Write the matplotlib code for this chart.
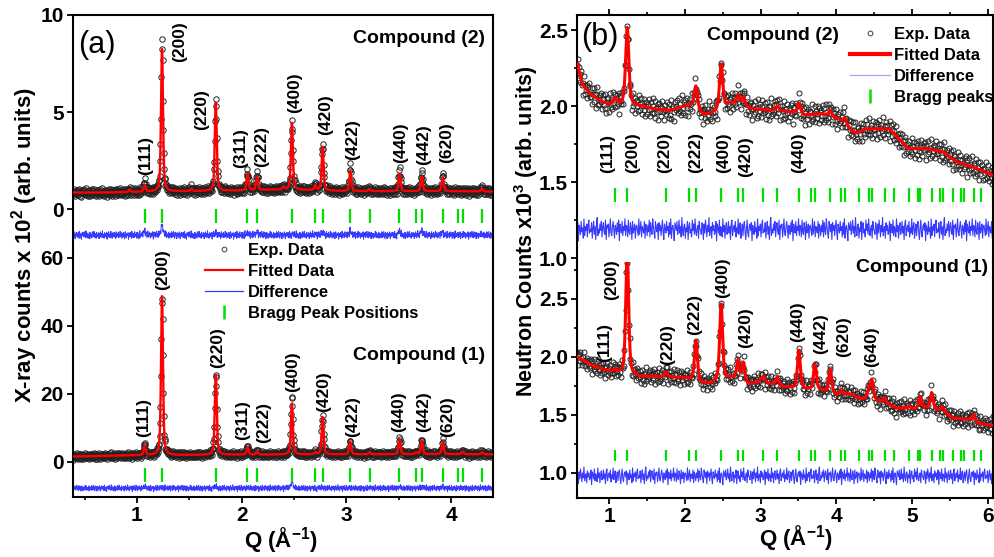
import numpy as np
import matplotlib
matplotlib.use('Agg')
import matplotlib.pyplot as plt
from matplotlib.lines import Line2D
from matplotlib.ticker import MultipleLocator

plt.rcParams['font.family'] = ['Liberation Sans', 'DejaVu Sans']
plt.rcParams['font.weight'] = 'bold'
plt.rcParams['mathtext.fontset'] = 'custom'
plt.rcParams['mathtext.rm'] = 'Liberation Sans:bold'
plt.rcParams['mathtext.bf'] = 'Liberation Sans:bold'
plt.rcParams['mathtext.it'] = 'Liberation Sans:bold:italic'
plt.rcParams['mathtext.default'] = 'rm'
plt.rcParams['axes.linewidth'] = 1.5

# ======================= DATA =======================
# Bragg reflection positions, Q (1/Angstrom)
xray_bragg = [1.074, 1.240, 1.753, 2.056, 2.147, 2.480, 2.702, 2.773, 3.037,
              3.221, 3.507, 3.667, 3.719, 3.920, 4.065, 4.112, 4.295]
neut_bragg = [1.074, 1.240, 1.753, 2.056, 2.147, 2.480, 2.702, 2.773, 3.037,
              3.221, 3.507, 3.667, 3.719, 3.920, 4.065, 4.112, 4.295, 4.427,
              4.470, 4.639, 4.761, 4.959, 5.074, 5.112, 5.260, 5.369, 5.404,
              5.545, 5.648, 5.681, 5.815, 5.913, 6.074]

# X-ray, compound (2)  (x 10^2 counts)
xa2_bg_q = [0.39, 0.7, 1.0, 1.5, 2.0, 2.3, 2.6, 3.0, 3.5, 4.0, 4.4]
xa2_bg_v = [0.85, 0.85, 0.88, 0.92, 0.95, 1.00, 0.98, 0.92, 0.92, 0.92, 0.90]
xa2_pk_q = [0.93, 1.074, 1.24, 1.52, 1.753, 2.056, 2.147, 2.40, 2.48, 2.702,
            2.773, 3.037, 3.221, 3.507, 3.719, 3.92, 4.295]
xa2_pk_h = [0.12, 0.35, 7.35, 0.12, 4.55, 0.85, 0.70, 0.15, 3.45, 0.25,
            2.25, 1.05, 0.12, 0.90, 0.75, 0.70, 0.15]
xa2_exp_h = [0.12, 0.55, 7.90, 0.12, 4.65, 0.95, 0.85, 0.15, 3.50, 0.30,
             2.40, 1.25, 0.12, 1.10, 1.00, 0.85, 0.20]

# X-ray, compound (1)  (x 10^2 counts)
xa1_bg_q = [0.39, 0.7, 1.0, 1.5, 2.0, 3.0, 4.0, 4.4]
xa1_bg_v = [1.6, 1.8, 1.95, 2.05, 2.15, 2.25, 2.3, 2.25]
xa1_pk_q = [1.074, 1.24, 1.753, 2.056, 2.147, 2.48, 2.702, 2.773, 3.037,
            3.221, 3.507, 3.667, 3.719, 3.92, 4.112, 4.295]
xa1_pk_h = [2.8, 46.8, 23.5, 2.2, 0.9, 15.0, 0.5, 11.0, 3.7,
            0.6, 4.4, 0.5, 4.0, 3.5, 0.8, 0.6]
xa1_exp_h = [3.3, 47.0, 24.0, 2.4, 1.0, 17.0, 0.5, 11.3, 3.9,
             0.7, 4.8, 0.5, 4.5, 3.8, 0.9, 0.7]

# Neutron, compound (2)  (x 10^3 counts)
nb2_bg_q = [0.58, 0.65, 0.75, 0.9, 1.0, 1.15, 1.4, 1.6, 1.8, 2.0, 2.1, 2.25,
            2.4, 2.6, 2.9, 3.2, 3.4, 3.6, 3.8, 4.05, 4.25, 4.4, 4.7, 4.8,
            4.95, 5.2, 5.4, 5.6, 5.8, 6.07]
nb2_bg_v = [2.28, 2.14, 2.08, 2.03, 2.01, 2.01, 2.00, 1.98, 1.97, 2.00, 2.00,
            1.94, 1.96, 2.02, 1.98, 1.97, 1.96, 1.94, 1.95, 1.91, 1.82, 1.85,
            1.85, 1.80, 1.72, 1.72, 1.70, 1.63, 1.60, 1.545]
nb2_pk_q = [1.074, 1.24, 2.147, 2.48, 2.702, 2.773, 3.221, 3.507, 3.92, 4.112]
nb2_pk_h = [0.04, 0.51, 0.15, 0.29, 0.06, 0.06, 0.03, 0.07, 0.04, 0.04]

# Neutron, compound (1)  (x 10^3 counts)
nb1_bg_q = [0.58, 0.8, 1.0, 1.15, 1.4, 1.7, 2.0, 2.25, 2.35, 2.6, 2.85, 3.0,
            3.3, 3.45, 3.6, 3.82, 4.0, 4.2, 4.3, 4.55, 4.8, 4.95, 5.2, 5.4,
            5.55, 5.75, 5.9, 6.07]
nb1_bg_v = [2.00, 1.92, 1.875, 1.86, 1.83, 1.83, 1.82, 1.77, 1.77, 1.82, 1.76,
            1.79, 1.74, 1.73, 1.72, 1.71, 1.67, 1.68, 1.64, 1.62, 1.56, 1.55,
            1.56, 1.53, 1.47, 1.46, 1.42, 1.41]
nb1_pk_q = [1.074, 1.24, 1.753, 2.147, 2.48, 2.702, 2.773, 3.037, 3.221,
            3.507, 3.719, 3.92, 4.065, 4.427, 4.47, 4.639, 4.959, 5.112,
            5.26, 5.404, 5.815]
nb1_pk_h = [0.02, 1.05, 0.04, 0.35, 0.66, 0.17, 0.16, 0.05, 0.07,
            0.33, 0.22, 0.20, 0.04, 0.08, 0.17, 0.05, 0.03, 0.10,
            0.14, 0.04, 0.06]

# residual pattern (arbitrary units), read as typical scatter of the data
resid = [3, -5, 1, 7, -2, -8, 4, 0, -3, 6, -1, 2, -6, 5, -4, 8, -7, 1, 3, -2, -9, 5, 2, -1, 6,
         -4, 0, 7, -3, 2, -6, 9, -1, -5, 3, 4, -7, 1, -2, 6, -8, 2, 5, -3, 0, -6, 7, -1, 4, -4,
         8, -2, -5, 1, 3, -7, 6, 0, -1, -4, 5, 2, -8, 4, -3, 7, 1, -6, 3, -2, 9, -5, 0, 2, -7,
         5, -1, 3, -4, -2, 6, -9, 4, 1, -3, 7, -5, 2, 0, -6, 8, -2, 3, -7, 1, 5, -4, -1, 6, -3,
         2, -8, 4, 7, -5, 0, 3, -2, 6, -6, 1, -3, 8, -4, 2, 5, -7, -1, 4, -5, 3, 6, -2, -8, 1,
         7, -3, -6, 2, 4, -1, 5, -9, 3, 0, -4, 6, -2, 1, -7, 8, -5, 2, -1, 4, -6, 3, 7, -3, 0,
         -2, 5, -7, 1, 6, -4, 2, -8, 3, 9, -5, 0, -3, 4, -1, 6, -6, 2, 5, -2, -4, 7, -8, 3, 1,
         4, -6, 0, 8, -3, -5, 2, 6, -1, -7, 3, 1, -4, 5, -2, 7, -9, 4, 0, -3, 6, -5, 2, -1, 8,
         -5, 3, 2, -6, 7, -2, -4, 5, 1, -8, 6, -3, 0, 4, -7, 2, 3, -1, -5, 8, -4, 1, 6, -6, 2,
         0, -3, 6, -7, 4, 1, -5, 3, -2, 7, -6, 5, -1, -4, 8, 2, -3, -7, 6, 1, -2, 4, -8, 5, -1]

hkl_xa = ['(111)', '(200)', '(220)', '(311)', '(222)', '(400)', '(420)', '(422)',
          '(440)', '(442)', '(620)']
hkl_nb2 = ['(111)', '(200)', '(220)', '(222)', '(400)', '(420)', '(440)']
hkl_nb1 = ['(111)', '(200)', '(220)', '(222)', '(400)', '(420)', '(440)', '(442)',
           '(620)', '(640)']

# label anchor positions (layout)
xa2_lab_q = [1.087, 1.41, 1.62, 1.99, 2.195, 2.51, 2.80, 3.06, 3.52, 3.74, 3.96]
xa2_lab_y = [1.75, 7.6, 4.07, 2.11, 2.16, 4.95, 3.81, 2.53, 2.37, 2.25, 2.37]
xa1_lab_q = [1.068, 1.25, 1.775, 2.01, 2.21, 2.49, 2.78, 3.055, 3.50, 3.74, 3.97]
xa1_lab_y = [7.35, 50.6, 27.6, 6.5, 5.6, 20.6, 14.7, 7.35, 8.8, 8.8, 7.35]
nb2_lab_q = [0.987, 1.305, 1.728, 2.14, 2.508, 2.81, 3.50]
nb2_lab_y = [1.56, 1.56, 1.56, 1.56, 1.56, 1.53, 1.56]
nb1_lab_q = [0.947, 1.03, 1.77, 2.125, 2.495, 2.80, 3.49, 3.79, 4.096, 4.466]
nb1_lab_y = [1.957, 2.49, 1.93, 2.19, 2.51, 2.08, 2.13, 2.03, 2.0, 1.91]


# ======================= helpers =======================
def pv(q, c, h, w, eta=0.5):
    x = (q - c) / w
    return h * (eta / (1 + 4 * x ** 2) + (1 - eta) * np.exp(-4 * np.log(2) * x ** 2))


def profile(q, bq, bv, pq, ph, w):
    y = np.interp(q, bq, bv)
    for c, h in zip(pq, ph):
        y = y + pv(q, c, h, w)
    return y


RED = '#ff0000'
BLUE = '#3a3aff'
GREEN = '#00dd00'
EXPC = '#222222'

W, H = 995, 557
fig = plt.figure(figsize=(W / 100, H / 100), dpi=100)


def axpx(x0, x1, y0, y1):
    return fig.add_axes([x0 / W, 1 - y1 / H, (x1 - x0) / W, (y1 - y0) / H])


axA2 = axpx(73, 493, 15, 250)
axA1 = axpx(73, 493, 250, 497)
axB2 = axpx(577, 993, 15, 262)
axB1 = axpx(577, 993, 262, 498)
for ax in (axA2, axA1, axB2, axB1):
    ax.patch.set_alpha(0)

lab_kw = dict(rotation=90, ha='center', va='bottom', fontsize=12.5,
              fontweight='bold', clip_on=False, zorder=6)


def draw(ax, qlim, n_exp, bq, bv, pq, ph, eh, w, nscale, shift, diff_off,
         bragg, blo, bhi, fitlw, ms, difflw):
    qe = np.linspace(qlim[0], qlim[1], n_exp)
    qf = np.linspace(qlim[0], qlim[1], 6000)
    noise = np.resize(np.roll(np.array(resid, float), shift), n_exp) * nscale
    fit_e = profile(qe, bq, bv, pq, ph, w)
    exp = profile(qe, bq, bv, pq, eh, w) + noise
    fit = profile(qf, bq, bv, pq, ph, w)
    ax.plot(qe, exp, ls='none', marker='o', ms=ms, mfc='none', mec=EXPC,
            mew=0.7, zorder=2)
    ax.plot(qf, fit, color=RED, lw=fitlw, zorder=3)
    ax.plot(qe, exp - fit_e + diff_off, color=BLUE, lw=difflw, zorder=2)
    ax.vlines(bragg, blo, bhi, color=GREEN, lw=1.6, zorder=2)
    ax.set_xlim(*qlim)


qA = (0.39, 4.40)
qB = (0.577, 6.07)

draw(axA2, qA, 1000, xa2_bg_q, xa2_bg_v, xa2_pk_q, xa2_pk_h, xa2_exp_h, 0.022,
     0.024, 0, -1.34, xray_bragg, -0.72, 0.0, 1.7, 3.9, 0.7)
draw(axA1, qA, 1000, xa1_bg_q, xa1_bg_v, xa1_pk_q, xa1_pk_h, xa1_exp_h, 0.022,
     0.11, 60, -7.7, xray_bragg, -6.0, -1.8, 1.7, 3.9, 0.7)
draw(axB2, qB, 600, nb2_bg_q, nb2_bg_v, nb2_pk_q, nb2_pk_h, nb2_pk_h, 0.05,
     0.0085, 120, 1.19, neut_bragg, 1.37, 1.46, 2.2, 3.6, 0.8)
draw(axB1, qB, 600, nb1_bg_q, nb1_bg_v, nb1_pk_q, nb1_pk_h, nb1_pk_h, 0.045,
     0.0085, 190, 0.975, neut_bragg, 1.10, 1.20, 2.2, 3.6, 0.8)

axA2.set_ylim(-2.11, 10)
axA1.set_ylim(-10.3, 62.35)
axB2.set_ylim(0.974, 2.599)
axB1.set_ylim(0.784, 2.819)

# peak labels
for ax, labs, qs, ys in ((axA2, hkl_xa, xa2_lab_q, xa2_lab_y),
                         (axA1, hkl_xa, xa1_lab_q, xa1_lab_y),
                         (axB2, hkl_nb2, nb2_lab_q, nb2_lab_y),
                         (axB1, hkl_nb1, nb1_lab_q, nb1_lab_y)):
    for t, q, y in zip(labs, qs, ys):
        ax.text(q, y, t, **lab_kw)

# spines and ticks
tick_kw = dict(direction='out', width=1.3, labelsize=15, pad=2.5)
for ax in (axA2, axB2):
    ax.spines['bottom'].set_visible(False)
for ax in (axA1, axB1):
    ax.spines['top'].set_visible(False)

for ax in (axA2, axA1):
    ax.tick_params(axis='both', which='major', length=4, **tick_kw)
    ax.tick_params(axis='both', which='minor', length=2.5, direction='out', width=1.2)
    ax.tick_params(top=False, right=False)
axA2.tick_params(axis='x', which='both', bottom=False, labelbottom=False)
axA2.yaxis.set_major_locator(MultipleLocator(5))
axA1.yaxis.set_major_locator(MultipleLocator(20))
axA1.xaxis.set_major_locator(MultipleLocator(1))
axA1.xaxis.set_minor_locator(MultipleLocator(0.5))
axA2.xaxis.set_major_locator(MultipleLocator(1))

for ax in (axB2, axB1):
    ax.tick_params(axis='both', which='major', length=4, **tick_kw)
    ax.tick_params(axis='both', which='minor', length=2.5, direction='out', width=1.2)
    ax.tick_params(axis='y', which='both', right=True)
    ax.yaxis.set_major_locator(MultipleLocator(0.5))
    ax.yaxis.set_minor_locator(MultipleLocator(0.25))
    ax.yaxis.set_major_formatter(matplotlib.ticker.FormatStrFormatter('%.1f'))
    ax.xaxis.set_major_locator(MultipleLocator(1))
    ax.xaxis.set_minor_locator(MultipleLocator(0.5))
axB2.tick_params(axis='x', which='both', bottom=False, labelbottom=False, top=True)
axB1.tick_params(axis='x', which='both', top=False)

for ax in (axA2, axA1, axB2, axB1):
    for t in ax.get_xticklabels() + ax.get_yticklabels():
        t.set_fontweight('bold')

# panel texts
axA2.text(0.981, 0.902, 'Compound (2)', transform=axA2.transAxes, ha='right',
          va='center', fontsize=14, fontweight='bold')
axA1.text(0.981, 0.571, 'Compound (1)', transform=axA1.transAxes, ha='right',
          va='center', fontsize=14, fontweight='bold')
axB2.text(0.471, 0.915, 'Compound (2)', transform=axB2.transAxes, ha='center',
          va='center', fontsize=14, fontweight='bold')
axB1.text(0.988, 0.975, 'Compound (1)', transform=axB1.transAxes, ha='right',
          va='center', fontsize=14, fontweight='bold')
axA2.text(0.012, 0.872, '(a)', transform=axA2.transAxes, ha='left', va='center',
          fontsize=22, fontweight='normal')
axB2.text(0.010, 0.911, '(b)', transform=axB2.transAxes, ha='left', va='center',
          fontsize=22, fontweight='normal')

# axis labels
fig.text(25 / W, 1 - 245 / H, 'X-ray counts x 10$^2$ (arb. units)', rotation=90,
         ha='center', va='center', fontsize=16, fontweight='bold')
fig.text(526 / W, 1 - 231 / H, 'Neutron Counts x10$^3$ (arb. units)', rotation=90,
         ha='center', va='center', fontsize=15.5, fontweight='bold')
fig.text(281 / W, 1 - 540 / H, 'Q (Å$^{-1}$)', ha='center', va='center',
         fontsize=16, fontweight='bold')
fig.text(796 / W, 1 - 538 / H, 'Q (Å$^{-1}$)', ha='center', va='center',
         fontsize=16, fontweight='bold')


# legends
def handles(redlw, bluealpha):
    return [Line2D([], [], ls='none', marker='o', ms=3.4, mfc='none', mec='#555555', mew=0.8),
            Line2D([], [], color=RED, lw=redlw),
            Line2D([], [], color=BLUE, lw=0.9, alpha=bluealpha),
            Line2D([], [], ls='none', marker='|', ms=10, mew=1.8, color=GREEN)]


legA = axA1.legend(handles(1.6, 1.0),
                   ['Exp. Data', 'Fitted Data', 'Difference', 'Bragg Peak Positions'],
                   loc='upper left', bbox_to_anchor=(205 / W, 1 - 243 / H),
                   bbox_transform=fig.transFigure, frameon=False, borderpad=0,
                   borderaxespad=0, handlelength=2.3, handletextpad=0.3,
                   labelspacing=0.36, prop={'size': 12, 'weight': 'bold'})
legB = axB2.legend(handles(3.0, 0.45),
                   ['Exp. Data', 'Fitted Data', 'Difference', 'Bragg peaks'],
                   loc='upper left', bbox_to_anchor=(850 / W, 1 - 27 / H),
                   bbox_transform=fig.transFigure, frameon=False, borderpad=0,
                   borderaxespad=0, handlelength=2.4, handletextpad=0.25,
                   labelspacing=0.36, prop={'size': 12, 'weight': 'bold'})
for leg in (legA, legB):
    leg.set_zorder(10)

fig.savefig('out.png', dpi=100, facecolor='white')
